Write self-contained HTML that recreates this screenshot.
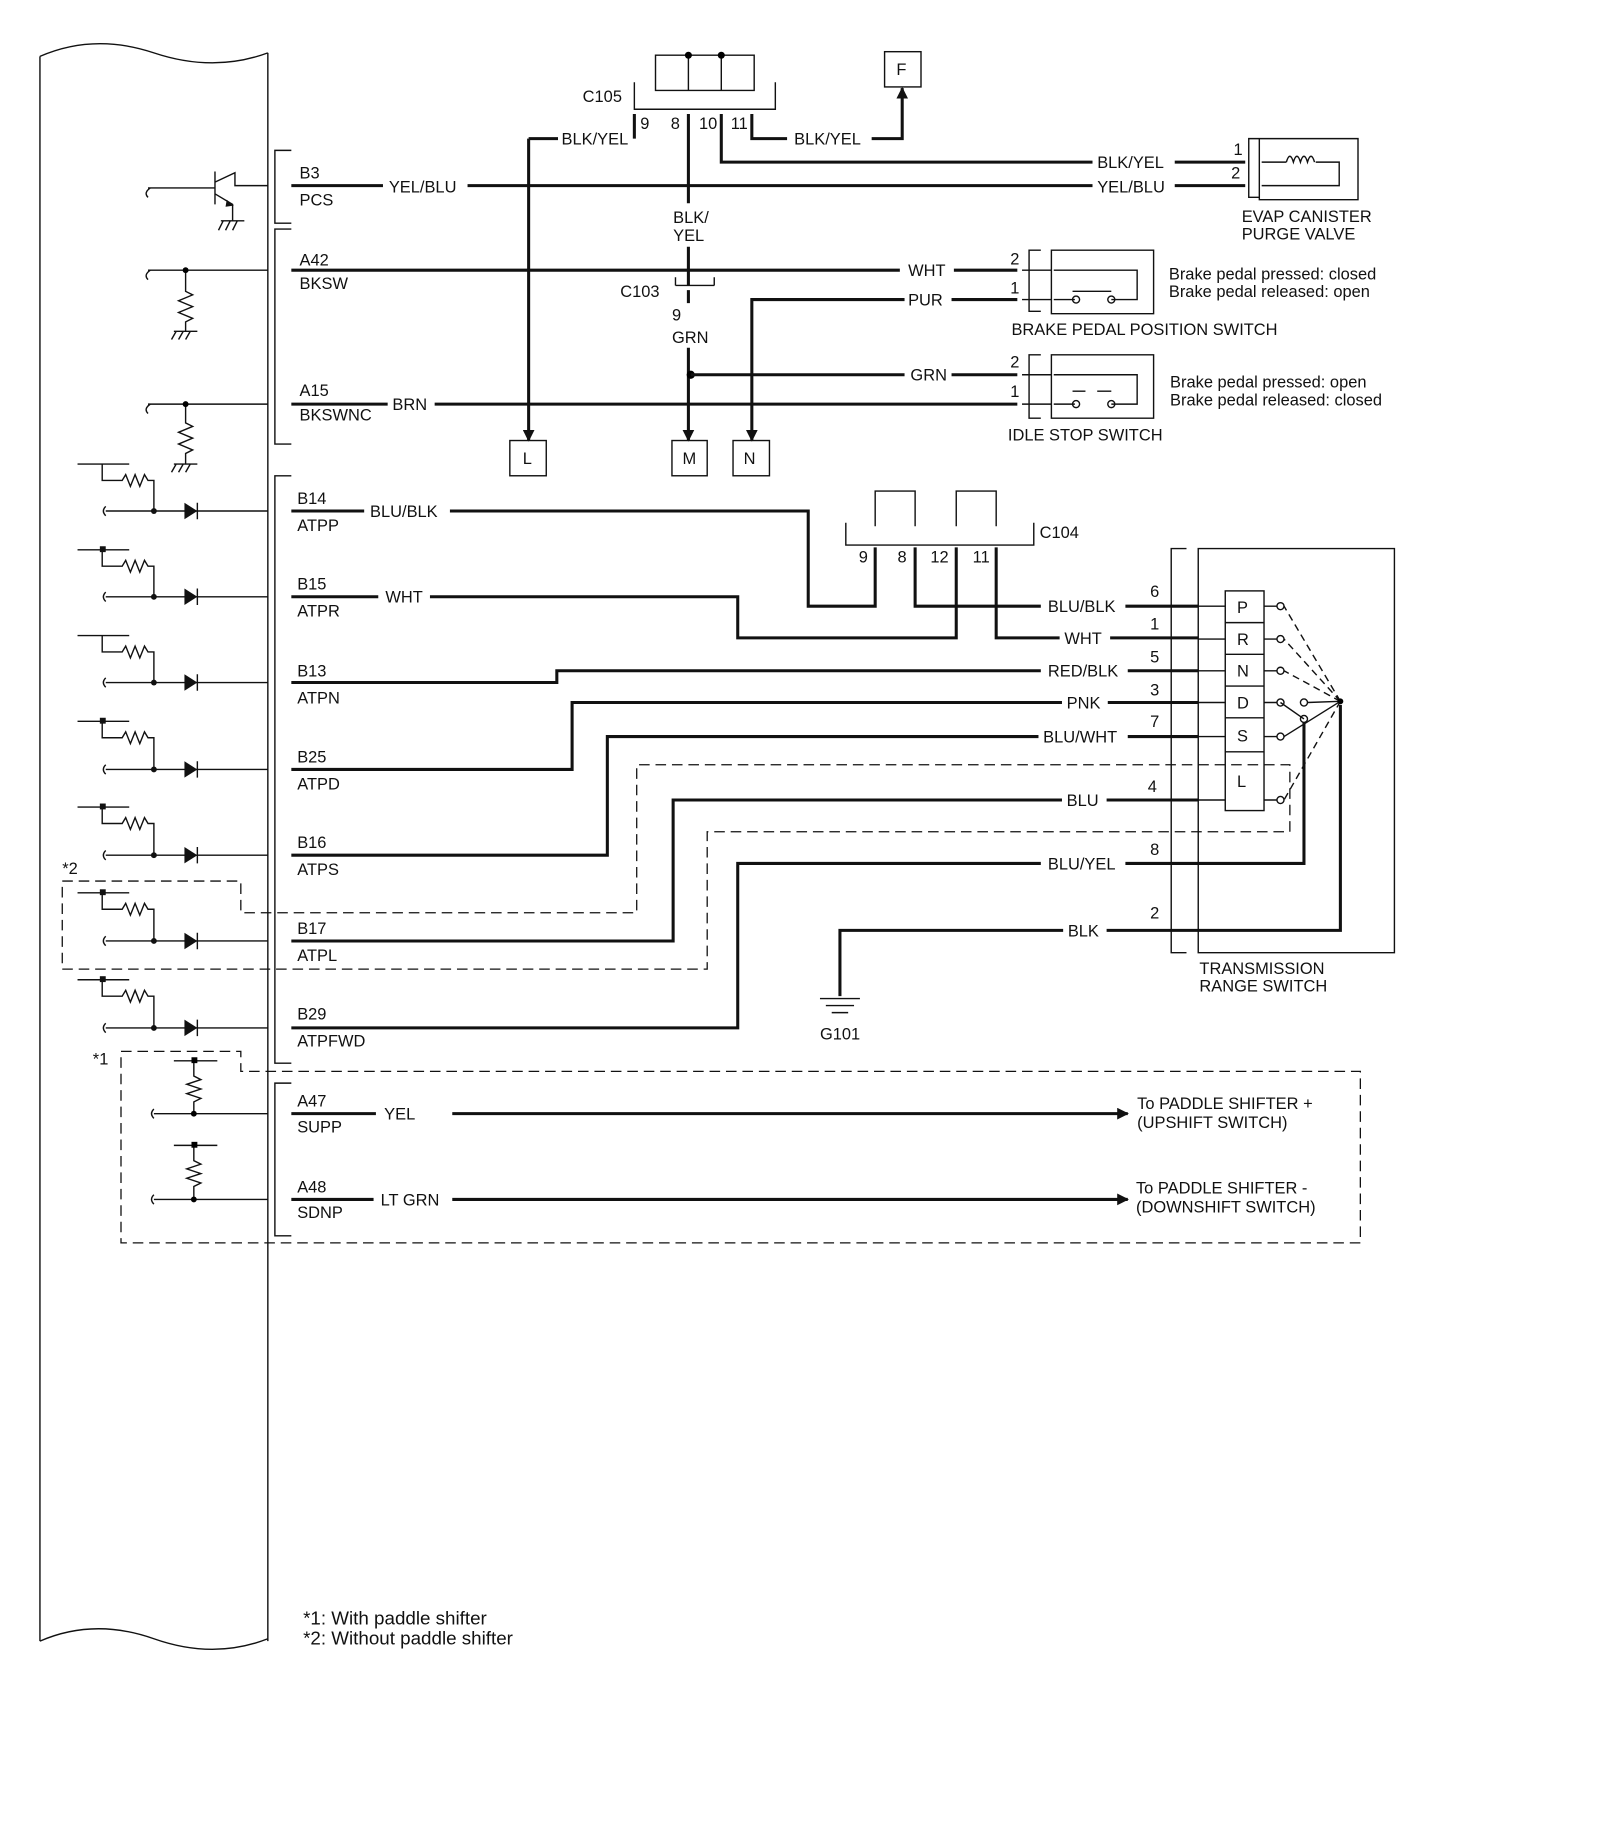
<!DOCTYPE html>
<html><head><meta charset="utf-8"><style>
html,body{margin:0;padding:0;background:#fff}
svg{display:block}
text{font-family:"Liberation Sans",Arial,sans-serif;font-size:14px;fill:#111}
.w{stroke:#111;stroke-width:2.6;fill:none}
.t{stroke:#111;stroke-width:1.2;fill:none}
.d{stroke:#111;stroke-width:1.1;fill:none;stroke-dasharray:9,5}
</style></head><body>
<svg width="1600" height="1842" viewBox="0 0 1362 1568" preserveAspectRatio="xMinYMin meet" xmlns="http://www.w3.org/2000/svg">
<defs>
<marker id="ar" markerWidth="10" markerHeight="10" refX="9" refY="5" orient="auto" markerUnits="userSpaceOnUse"><path d="M0,0 L10,5 L0,10 z" fill="#111"/></marker>
</defs>
<path class="t" d="M34,48 Q80,28 131,45 T228,45 M34,48 V1397 M228,45 V1397 M34,1397 Q80,1377 131,1395 T228,1395"/>
<path class="t" d="M248,128 H234 V190 H248 M248,195 H234 V378 H248 M248,405 H234 V905 H248 M248,922 H234 V1052 H248"/>
<g>
<text x="255" y="152">B3</text><text x="255" y="175">PCS</text>
<text x="255" y="226">A42</text><text x="255" y="246">BKSW</text>
<text x="255" y="337">A15</text><text x="255" y="358">BKSWNC</text>
<text x="253" y="429">B14</text><text x="253" y="452">ATPP</text>
<text x="253" y="502">B15</text><text x="253" y="525">ATPR</text>
<text x="253" y="576">B13</text><text x="253" y="599">ATPN</text>
<text x="253" y="649">B25</text><text x="253" y="672">ATPD</text>
<text x="253" y="722">B16</text><text x="253" y="745">ATPS</text>
<text x="253" y="795">B17</text><text x="253" y="818">ATPL</text>
<text x="253" y="868">B29</text><text x="253" y="891">ATPFWD</text>
<text x="253" y="942">A47</text><text x="253" y="964">SUPP</text>
<text x="253" y="1015">A48</text><text x="253" y="1037">SDNP</text>
</g>
<path class="t" d="M128,160 Q122,164 126,168 M126,160 H183 M183,146 V174 M183,155 L200,147 V158 H228 M183,165 L198,174 V188 M188,188 H208 M190,188 l-4,8 M196,188 l-4,8 M202,188 l-4,8"/>
<path d="M193,170 L199,175 L192,176 z" fill="#111"/>
<g class="t">
<path d="M128,230 Q122,234 126,238 M126,230 H228 M158,230 V248 l6,3 -12,5 12,5 -12,5 12,5 -6,3 V282 M148,282 H168 M150,282 l-4,7 M156,282 l-4,7 M162,282 l-4,7"/>
<path d="M128,344 Q122,348 126,352 M126,344 H228 M158,344 V360 l6,3 -12,5 12,5 -12,5 12,5 -6,3 V395 M148,395 H168 M150,395 l-4,7 M156,395 l-4,7 M162,395 l-4,7"/>
</g>
<circle cx="158" cy="230" r="2.5"/><circle cx="158" cy="344" r="2.5"/>
<g>
<g class="t">
<path d="M66,395 H110 M87,395 V409 H104 l3,-5 4,10 4,-10 4,10 4,-10 3,5 H131 V435 M90,431 Q86,435 90,439 M90,435 H228 M168,428 V442"/>
<path d="M66,468 H110 M87,468 V482 H104 l3,-5 4,10 4,-10 4,10 4,-10 3,5 H131 V508 M90,504 Q86,508 90,512 M90,508 H228 M168,501 V515"/>
<path d="M66,541 H110 M87,541 V555 H104 l3,-5 4,10 4,-10 4,10 4,-10 3,5 H131 V581 M90,577 Q86,581 90,585 M90,581 H228 M168,574 V588"/>
<path d="M66,614 H110 M87,614 V628 H104 l3,-5 4,10 4,-10 4,10 4,-10 3,5 H131 V655 M90,651 Q86,655 90,659 M90,655 H228 M168,648 V662"/>
<path d="M66,687 H110 M87,687 V701 H104 l3,-5 4,10 4,-10 4,10 4,-10 3,5 H131 V728 M90,724 Q86,728 90,732 M90,728 H228 M168,721 V735"/>
<path d="M66,760 H110 M87,760 V774 H104 l3,-5 4,10 4,-10 4,10 4,-10 3,5 H131 V801 M90,797 Q86,801 90,805 M90,801 H228 M168,794 V808"/>
<path d="M66,834 H110 M87,834 V848 H104 l3,-5 4,10 4,-10 4,10 4,-10 3,5 H131 V875 M90,871 Q86,875 90,879 M90,875 H228 M168,868 V882"/>
</g>
<g fill="#111">
<path d="M157,428 L168,435 L157,442z"/><circle cx="131" cy="435" r="2.5"/>
<path d="M157,501 L168,508 L157,515z"/><circle cx="131" cy="508" r="2.5"/>
<path d="M157,574 L168,581 L157,588z"/><circle cx="131" cy="581" r="2.5"/>
<path d="M157,648 L168,655 L157,662z"/><circle cx="131" cy="655" r="2.5"/>
<path d="M157,721 L168,728 L157,735z"/><circle cx="131" cy="728" r="2.5"/>
<path d="M157,794 L168,801 L157,808z"/><circle cx="131" cy="801" r="2.5"/>
<path d="M157,868 L168,875 L157,882z"/><circle cx="131" cy="875" r="2.5"/>
<rect x="85" y="465" width="5" height="5"/><rect x="85" y="611" width="5" height="5"/><rect x="85" y="684" width="5" height="5"/><rect x="85" y="757" width="5" height="5"/><rect x="85" y="831" width="5" height="5"/>
</g>
</g>
<g class="t">
<path d="M148,903 H185 M165,903 V916 l6,3 -12,4 12,4 -12,4 12,4 -6,3 V948 M131,944 Q127,948 131,952 M131,948 H228"/>
<path d="M148,975 H185 M165,975 V988 l6,3 -12,4 12,4 -12,4 12,4 -6,3 V1021 M131,1017 Q127,1021 131,1025 M131,1021 H228"/>
</g>
<circle cx="165" cy="948" r="2.5"/><circle cx="165" cy="1021" r="2.5"/>
<rect x="163" y="900" width="5" height="5"/><rect x="163" y="972" width="5" height="5"/>
<path class="d" d="M53,750 H205 V777 H542 V651 H1098 V708 H602 V825 H53 Z"/>
<path class="d" d="M103,895 H205 V912 H1158 V1058 H103 Z"/>
<text x="53" y="744">*2</text><text x="79" y="906">*1</text>
<path class="t" d="M558,47 H642 V77 H558 Z M586,47 V77 M614,47 V77 M540,70 V93 H660 V70"/>
<circle cx="586" cy="47" r="3"/><circle cx="614" cy="47" r="3"/>
<text x="496" y="87">C105</text>
<text x="545" y="110">9</text><text x="571" y="110">8</text><text x="595" y="110">10</text><text x="622" y="110">11</text>
<path class="w" d="M540,97 V118 M450,118 H475 M450,118 V375" marker-end="url(#ar)"/>
<text x="478" y="123">BLK/YEL</text>
<path class="w" d="M640,97 V118 H670 M742,118 H768 V75" marker-end="url(#ar)"/>
<text x="676" y="123">BLK/YEL</text>
<rect class="t" x="753" y="44" width="31" height="30"/><text x="763" y="64">F</text>
<path class="w" d="M614,97 V138 H930 M1000,138 H1060"/>
<text x="934" y="143">BLK/YEL</text>
<path class="w" d="M248,158 H326 M398,158 H930 M1000,158 H1060"/>
<text x="331" y="164">YEL/BLU</text><text x="934" y="164">YEL/BLU</text>
<text x="1050" y="132">1</text><text x="1048" y="152">2</text>
<path class="t" d="M1072,118 H1063 V168 H1072 M1072,118 H1156 V170 H1072 Z M1074,138 H1095 M1074,158 H1140 V138 H1120"/>
<path class="t" d="M1095,138 q3,-10 6,0 q3,-10 6,0 q3,-10 6,0 q3,-10 6,0"/>
<text x="1057" y="189">EVAP CANISTER</text><text x="1057" y="204">PURGE VALVE</text>
<path class="w" d="M586,97 V173 M586,210 V243"/>
<text x="573" y="190">BLK/</text><text x="573" y="205">YEL</text>
<path class="t" d="M575,243 H608 M575,243 V236 M608,243 V236"/>
<text x="528" y="253">C103</text><text x="572" y="273">9</text>
<path class="w" d="M586,247 V258 M586,296 V375" marker-end="url(#ar)"/>
<text x="572" y="292">GRN</text>
<circle cx="588" cy="319" r="3.5"/>
<path class="w" d="M588,319 H770 M810,319 H866"/><text x="775" y="324">GRN</text>
<rect class="t" x="572" y="375" width="30" height="30"/><text x="581" y="395">M</text>
<rect class="t" x="434" y="375" width="31" height="30"/><text x="445" y="395">L</text>
<rect class="t" x="624" y="375" width="31" height="30"/><text x="633" y="395">N</text>
<path class="w" d="M248,230 H766 M812,230 H866"/><text x="773" y="235">WHT</text>
<path class="w" d="M866,255 H810 M770,255 H640 V375" marker-end="url(#ar)"/><text x="773" y="260">PUR</text>
<path class="w" d="M248,344 H330 M370,344 H866"/><text x="334" y="349">BRN</text>
<text x="860" y="225">2</text><text x="860" y="250">1</text><text x="860" y="313">2</text><text x="860" y="338">1</text>
<path class="t" d="M886,213 H876 V265 H886 M895,213 H982 V267 H895 Z M870,230 H895 M870,255 H895 M897,230 H968 V255 H946 M897,255 H915 M913,248 H946"/>
<circle class="t" cx="916" cy="255" r="3"/><circle class="t" cx="946" cy="255" r="3"/>
<text x="995" y="238">Brake pedal pressed: closed</text><text x="995" y="253">Brake pedal released: open</text>
<text x="861" y="285">BRAKE PEDAL POSITION SWITCH</text>
<path class="t" d="M886,302 H876 V356 H886 M895,302 H982 V356 H895 Z M870,319 H895 M870,344 H895 M897,319 H968 V344 H946 M897,344 H915 M913,333 H924 M934,333 H946"/>
<circle class="t" cx="916" cy="344" r="3"/><circle class="t" cx="946" cy="344" r="3"/>
<text x="996" y="330">Brake pedal pressed: open</text><text x="996" y="345">Brake pedal released: closed</text>
<text x="858" y="375">IDLE STOP SWITCH</text>
<path class="t" d="M745,448 V418 H779 V448 M814,448 V418 H848 V448 M720,445 V464 H880 V445"/>
<text x="885" y="458">C104</text>
<text x="731" y="479">9</text><text x="764" y="479">8</text><text x="792" y="479">12</text><text x="828" y="479">11</text>
<path class="w" d="M248,435 H310 M383,435 H688 V516 H745 V466"/><text x="315" y="440">BLU/BLK</text>
<path class="w" d="M779,466 V516 H886 M958,516 H1020"/><text x="892" y="521">BLU/BLK</text>
<path class="w" d="M248,508 H322 M366,508 H628 V543 H814 V466"/><text x="328" y="513">WHT</text>
<path class="w" d="M848,466 V543 H902 M945,543 H1020"/><text x="906" y="548">WHT</text>
<path class="w" d="M248,581 H474 V571 H886 M960,571 H1020"/><text x="892" y="576">RED/BLK</text>
<path class="w" d="M248,655 H487 V598 H904 M943,598 H1020"/><text x="908" y="603">PNK</text>
<path class="w" d="M248,728 H517 V627 H884 M960,627 H1020"/><text x="888" y="632">BLU/WHT</text>
<path class="w" d="M248,801 H573 V681 H904 M942,681 H1020"/><text x="908" y="686">BLU</text>
<path class="w" d="M248,875 H628 V735 H886 M958,735 H1020"/><text x="892" y="740">BLU/YEL</text>
<path class="w" d="M715,848 V792 H905 M942,792 H1020"/><text x="909" y="797">BLK</text>
<path class="t" d="M698,850 H732 M703,856 H727 M708,862 H722"/><text x="698" y="885">G101</text>
<text x="979" y="508">6</text><text x="979" y="536">1</text><text x="979" y="564">5</text><text x="979" y="592">3</text><text x="979" y="619">7</text><text x="977" y="674">4</text><text x="979" y="728">8</text><text x="979" y="782">2</text>
<path class="t" d="M1010,467 H997 V811 H1010 M1020,467 H1187 V811 H1020 Z"/>
<rect class="t" x="1043" y="503" width="33" height="187"/>
<path class="t" d="M1043,530 H1076 M1043,557 H1076 M1043,584 H1076 M1043,611 H1076 M1043,640 H1076"/>
<text x="1053" y="522">P</text><text x="1053" y="549">R</text><text x="1053" y="576">N</text><text x="1053" y="603">D</text><text x="1053" y="631">S</text><text x="1053" y="670">L</text>
<path class="t" d="M1020,516 H1043 M1020,544 H1043 M1020,571 H1043 M1020,598 H1043 M1020,627 H1043 M1020,681 H1043 M1076,516 H1087 M1076,544 H1087 M1076,571 H1087 M1076,598 H1087 M1076,627 H1087 M1076,681 H1087"/>
<g class="t">
<circle cx="1090" cy="516" r="3"/><circle cx="1090" cy="544" r="3"/><circle cx="1090" cy="571" r="3"/><circle cx="1090" cy="598" r="3"/><circle cx="1090" cy="627" r="3"/><circle cx="1090" cy="681" r="3"/>
<circle cx="1110" cy="598" r="3"/><circle cx="1110" cy="612" r="3"/>
</g>
<path class="t" stroke-dasharray="6,4" d="M1141,597 L1093,516 M1141,597 L1093,544 M1141,597 L1093,571 M1141,597 L1093,681"/>
<path class="t" d="M1141,597 L1093,627 M1141,597 L1113,598 M1090,598 L1110,612"/>
<circle cx="1141" cy="597" r="2.5"/>
<path class="w" d="M1020,735 H1110 V615 M1020,792 H1141 V600"/>
<text x="1021" y="829">TRANSMISSION</text><text x="1021" y="844">RANGE SWITCH</text>
<path class="w" d="M248,948 H320 M385,948 H960" marker-end="url(#ar)"/><text x="327" y="953">YEL</text>
<path class="w" d="M248,1021 H318 M385,1021 H960" marker-end="url(#ar)"/><text x="324" y="1026">LT GRN</text>
<text x="968" y="944">To PADDLE SHIFTER +</text><text x="968" y="960">(UPSHIFT SWITCH)</text>
<text x="967" y="1016">To PADDLE SHIFTER -</text><text x="967" y="1032">(DOWNSHIFT SWITCH)</text>
<text x="258" y="1383" style="font-size:16px">*1: With paddle shifter</text>
<text x="258" y="1400" style="font-size:16px">*2: Without paddle shifter</text>
</svg>
</body></html>
